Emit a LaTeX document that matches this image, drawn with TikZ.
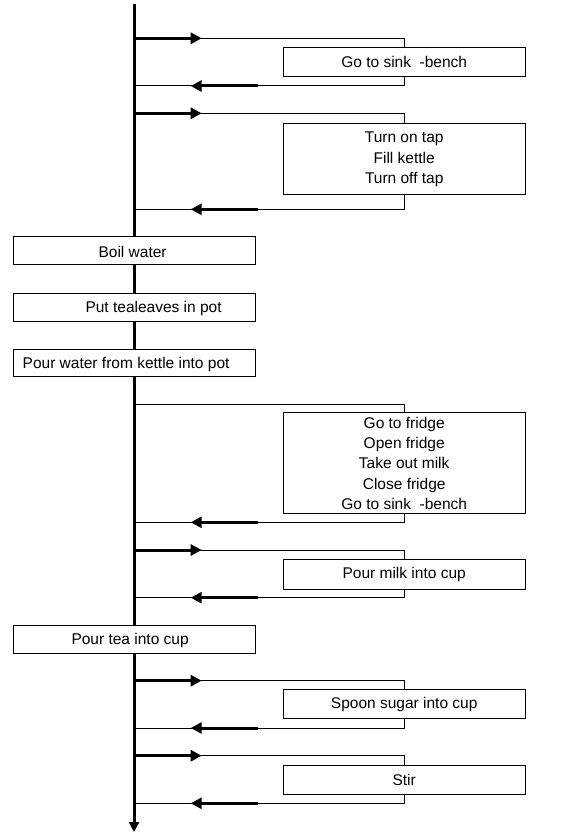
\documentclass[tikz,border=0pt]{standalone}
\usepackage{fontspec}
\setmainfont{Liberation Sans}
\usetikzlibrary{arrows.meta,calc}
\begin{document}
\begin{tikzpicture}[x=1pt,y=-1pt,
  mainline/.style={line width=3pt},
  thinline/.style={line width=1pt},
  thickarrow/.style={line width=3pt,-{Triangle[length=11pt,width=11pt]}},
  downarrow/.style={line width=3pt,-{Triangle[length=10pt,width=10pt]}},
  box/.style={draw,line width=1pt,fill=white,rectangle,inner sep=0pt,
    minimum width=242pt,align=center,
    font=\fontsize{15.5}{20.3}\selectfont},
  txt/.style={inner sep=0pt,font=\fontsize{15.5}{20.3}\selectfont}
]
\useasboundingbox (0,0) rectangle (561,834);
% main line
\coordinate (top) at (134,4);
\coordinate (bottom) at (134,832);
\draw[downarrow] (top) -- (bottom);

% left boxes
\node[box,minimum height=28.3pt] (boil) at (134.6,250.8) {};
\node[txt] at ($(boil.center)+(-2,1)$) {Boil water};
\node[box,minimum height=27.7pt] (leaves) at (134.6,307.2) {};
\node[txt] at ($(leaves.center)+(19,1)$) {Put tealeaves in pot};
\node[box,minimum height=27.4pt] (pourw) at (134.6,363) {};
\node[txt] at ($(pourw.center)+(-8.5,1)$) {Pour water from kettle into pot};
\node[box,minimum height=28.3pt] (pourt) at (134.6,639.2) {};
\node[txt] at ($(pourt.center)+(-4.5,1)$) {Pour tea into cup};

% right boxes
\node[box,minimum height=29pt] (r1) at (404.2,62.2) {Go to sink\ \ -bench};
\node[box,minimum height=70.7pt] (r2) at (404.2,159.3) {Turn on tap\\Fill kettle\\Turn off tap};
\node[box,minimum height=101.3pt] (r3) at (404.2,463.3) {Go to fridge\\Open fridge\\Take out milk\\Close fridge\\Go to sink\ \ -bench};
\node[box,minimum height=29.7pt] (r4) at (404.2,574.2) {Pour milk into cup};
\node[box,minimum height=28.7pt] (r5) at (404.2,704.3) {Spoon sugar into cup};
\node[box,minimum height=29pt] (r6) at (404.2,779.5) {Stir};

% branches: box / forward y / return y / forward arrow?
\foreach \b/\fy/\ry/\fa in {r1/38.3/86/1, r2/113.3/209.3/1, r3/404/522.3/0,
                            r4/550/597.7/1, r5/680.7/728/1, r6/755.7/803.3/1}{
  \coordinate (f-\b) at (134,\fy);
  \coordinate (r-\b) at (134,\ry);
  % forward
  \draw[thinline] (f-\b) -- (\b.north |- f-\b) -- (\b.north);
  \ifnum\fa=1
    \draw[thickarrow] ($(f-\b)+(-1,0)$) -- ($(f-\b)+(67.7,0)$);
  \fi
  % return
  \draw[thinline] (\b.south) -- (\b.south |- r-\b) -- (r-\b);
  \draw[thickarrow] ($(r-\b)+(124.3,0)$) -- ($(r-\b)+(56.7,0)$);
}
\end{tikzpicture}
\end{document}
